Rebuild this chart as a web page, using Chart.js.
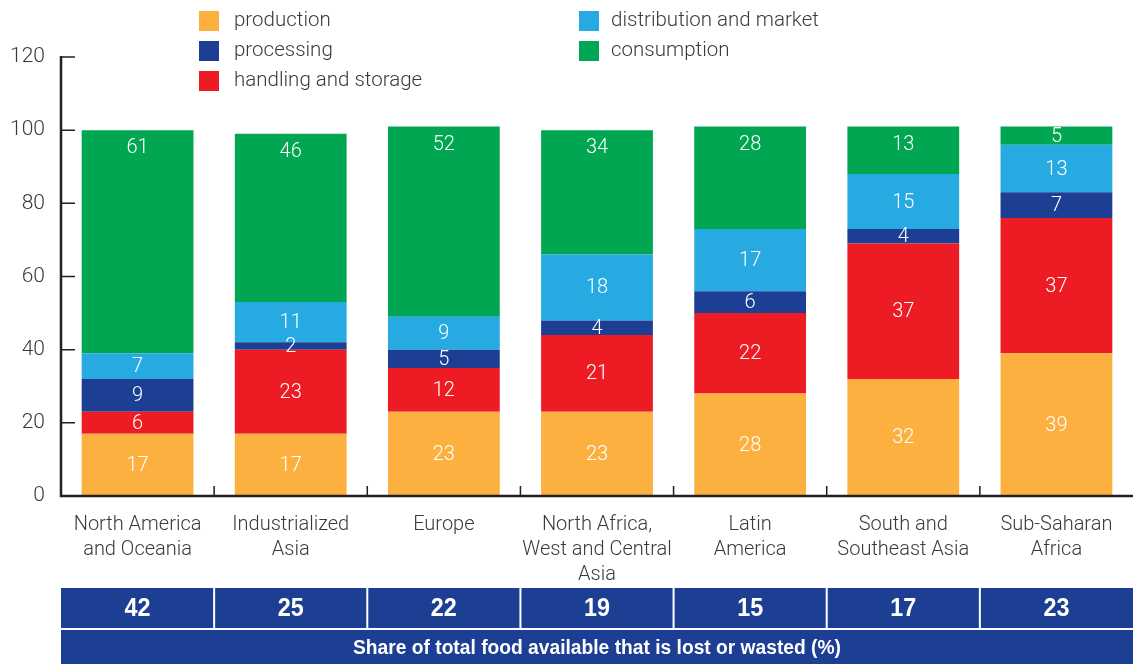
<!DOCTYPE html>
<html>
<head>
<meta charset="utf-8">
<script src="https://cdn.jsdelivr.net/npm/chart.js@4.4.1/dist/chart.umd.min.js"></script>
<style>
  html, body { margin: 0; padding: 0; background: #fff; }
  #wrap { width: 1133px; height: 664px; position: relative; }
</style>
</head>
<body>
<div id="wrap"><canvas id="myChart"></canvas></div>
<script>
const regions = [
  ['North America', 'and Oceania'],
  ['Industrialized', 'Asia'],
  ['Europe'],
  ['North Africa,', 'West and Central', 'Asia'],
  ['Latin', 'America'],
  ['South and', 'Southeast Asia'],
  ['Sub-Saharan', 'Africa'],
];

// stage shares, bottom to top of each bar
const production   = [17, 17, 23, 23, 28, 32, 39];
const handling     = [6, 23, 12, 21, 22, 37, 37];
const processing   = [9, 2, 5, 4, 6, 4, 7];
const distribution = [7, 11, 9, 18, 17, 15, 13];
const consumption  = [61, 46, 52, 34, 28, 13, 5];

// share of total food available that is lost or wasted (%)
const lostShare = [42, 25, 22, 19, 15, 17, 23];
const tableCaption = 'Share of total food available that is lost or wasted (%)';

const yTicks = [0, 20, 40, 60, 80, 100, 120];

const COLORS = {
  production: '#FBB040',
  processing: '#1C3F94',
  handling: '#ED1C24',
  distribution: '#27AAE1',
  consumption: '#00A651',
};
const TABLE_BLUE = '#1C3F94';
const AXIS = '#231F20';
const TEXT = '#3a3a3a';
const FONT = 'Roboto, "Liberation Sans", sans-serif';
const BOLD = '"Liberation Sans", Arial, sans-serif';

// legend placement: [label, colour, x, y]
const legendItems = [
  ['production', COLORS.production, 199, 11],
  ['processing', COLORS.processing, 199, 41],
  ['handling and storage', COLORS.handling, 199, 71],
  ['distribution and market', COLORS.distribution, 579, 11],
  ['consumption', COLORS.consumption, 579, 41],
];

// draw text squeezed horizontally to a given width
function squeezeText(ctx, text, x, y, width) {
  const w = ctx.measureText(text).width;
  const k = Math.min(1, width / w);
  ctx.save();
  ctx.translate(x, y);
  ctx.scale(k, 1);
  ctx.fillText(text, 0, 0);
  ctx.restore();
}

const extras = {
  id: 'extras',
  afterDatasetsDraw(chart) {
    const ctx = chart.ctx;
    ctx.save();
    ctx.fillStyle = '#fff';
    ctx.font = '300 20px ' + FONT;
    ctx.textAlign = 'center';
    ctx.textBaseline = 'middle';
    const last = chart.data.datasets.length - 1;
    chart.data.datasets.forEach((ds, i) => {
      chart.getDatasetMeta(i).data.forEach((el, j) => {
        let y = (el.y + el.base) / 2 + 1;
        if (i === last) y = Math.min(y, el.y + 18);
        ctx.fillText(String(ds.data[j]), el.x, y);
      });
    });
    ctx.restore();
  },
  afterDraw(chart) {
    const ctx = chart.ctx;
    const area = chart.chartArea;
    const xs = chart.scales.x;
    const ys = chart.scales.y;
    const n = regions.length;
    const catW = (area.right - area.left) / n;
    ctx.save();

    // axes
    ctx.strokeStyle = AXIS;
    ctx.lineWidth = 2.5;
    ctx.beginPath();
    ctx.moveTo(area.left, ys.getPixelForValue(120) - 1);
    ctx.lineTo(area.left, area.bottom);
    ctx.lineTo(area.right, area.bottom);
    ctx.stroke();

    ctx.lineWidth = 1.5;
    ctx.beginPath();
    yTicks.forEach(v => {
      const y = ys.getPixelForValue(v);
      ctx.moveTo(area.left, y);
      ctx.lineTo(area.left + 14, y);
    });
    for (let i = 1; i < n; i++) {
      const x = area.left + i * catW;
      ctx.moveTo(x, area.bottom);
      ctx.lineTo(x, area.bottom - 10);
    }
    ctx.stroke();

    // legend
    ctx.textBaseline = 'middle';
    ctx.textAlign = 'left';
    ctx.font = '300 20.5px ' + FONT;
    legendItems.forEach(([label, color, x, y]) => {
      ctx.fillStyle = color;
      ctx.fillRect(x, y, 20, 20);
      ctx.fillStyle = TEXT;
      ctx.fillText(label, x + (x > 400 ? 32 : 35), y + 10);
    });

    // table below chart
    const top1 = 588, h1 = 40, top2 = 630, bottom = 664;
    ctx.fillStyle = TABLE_BLUE;
    ctx.fillRect(area.left, top1, area.right - area.left, bottom - top1);
    ctx.strokeStyle = '#fff';
    ctx.lineWidth = 2;
    ctx.beginPath();
    ctx.moveTo(area.left, top1 + h1 + 1);
    ctx.lineTo(area.right, top1 + h1 + 1);
    for (let i = 1; i < n; i++) {
      const x = area.left + i * catW;
      ctx.moveTo(x, top1);
      ctx.lineTo(x, top1 + h1 + 1);
    }
    ctx.stroke();

    ctx.fillStyle = '#fff';
    ctx.textAlign = 'center';
    ctx.font = 'bold 25px ' + BOLD;
    lostShare.forEach((v, i) => {
      squeezeText(ctx, String(v), xs.getPixelForValue(i), top1 + h1 / 2 + 1, 26);
    });
    ctx.font = 'bold 20px ' + BOLD;
    squeezeText(ctx, tableCaption, (area.left + area.right) / 2, (top2 + bottom) / 2 + 1, 488);
    ctx.restore();
  }
};

const mkSet = (label, data, color) => ({
  label, data,
  backgroundColor: color,
  borderWidth: 0,
  barPercentage: 0.73,
  categoryPercentage: 1,
});

document.addEventListener('DOMContentLoaded', function () {
  const ctx = document.getElementById('myChart').getContext('2d');
  new Chart(ctx, {
    type: 'bar',
    data: {
      labels: regions,
      datasets: [
        mkSet('production', production, COLORS.production),
        mkSet('handling and storage', handling, COLORS.handling),
        mkSet('processing', processing, COLORS.processing),
        mkSet('distribution and market', distribution, COLORS.distribution),
        mkSet('consumption', consumption, COLORS.consumption),
      ]
    },
    options: {
      responsive: true,
      maintainAspectRatio: false,
      animation: false,
      layout: { padding: { left: 0, right: 0, top: 57, bottom: 0 } },
      plugins: {
        legend: { display: false },
        tooltip: { enabled: false },
      },
      scales: {
        x: {
          stacked: true,
          grid: { display: false },
          border: { display: false },
          ticks: {
            color: TEXT,
            font: { family: FONT, size: 20, weight: 300, lineHeight: 1.25 },
            padding: 8,
            maxRotation: 0,
            autoSkip: false,
          },
          afterFit: s => { s.height = 168; },
        },
        y: {
          stacked: true,
          min: 0,
          max: 120,
          grid: { display: false },
          border: { display: false },
          ticks: {
            stepSize: 20,
            color: TEXT,
            font: { family: FONT, size: 21, weight: 300 },
            padding: 8,
          },
          afterFit: s => { s.width = 61; },
        }
      }
    },
    plugins: [extras]
  });
});
</script>
</body>
</html>
